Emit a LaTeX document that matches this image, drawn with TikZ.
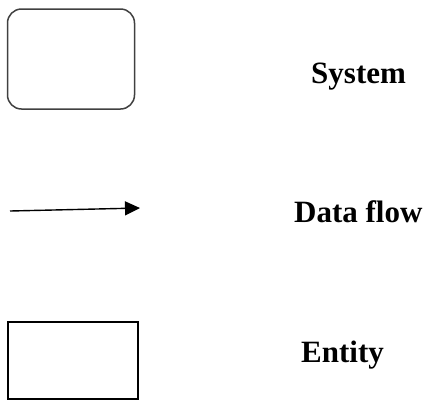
\documentclass[tikz,border=0pt]{standalone}
\usepackage{fontspec}
\setmainfont{Liberation Serif}
\usetikzlibrary{arrows.meta}
\begin{document}
\begin{tikzpicture}[x=1pt,y=-1pt,
  symbolbox/.style={draw, inner sep=0pt, minimum width=#1},
  label/.style={anchor=base west, inner sep=0pt, font=\fontsize{31}{36}\selectfont\bfseries},
  flow/.style={line width=1.4pt, -{Triangle[length=15pt,width=14pt]}}]
  \useasboundingbox (0,0) rectangle (430,400);
  % legend symbols
  \node[symbolbox=127pt, minimum height=100pt, rounded corners=14pt,
        draw=black!75, line width=1.5pt] (system) at (71,59) {};
  \coordinate (flowstart) at (10,211);
  \coordinate (flowend) at (140,208);
  \draw[flow] (flowstart) -- (flowend);
  \node[symbolbox=130pt, minimum height=77pt, line width=1.8pt] (entity) at (72.7,360.5) {};
  % legend labels
  \node[label] (systemlabel) at (311,83) {System};
  \node[label] (flowlabel) at (294,222) {Data flow};
  \node[label] (entitylabel) at (301,362) {Entity};
\end{tikzpicture}
\end{document}
